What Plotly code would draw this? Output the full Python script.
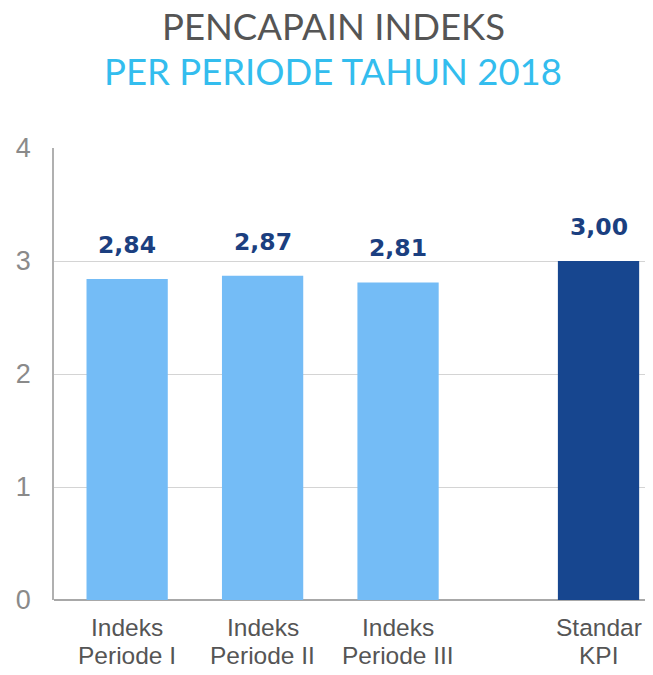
import plotly.graph_objects as go

categories = ["Indeks<br>Periode I", "Indeks<br>Periode II", "Indeks<br>Periode III", "Standar<br>KPI"]
values = [2.84, 2.87, 2.81, 3.00]
value_labels = ["2,84", "2,87", "2,81", "3,00"]
bar_colors = ["#74bcf6", "#74bcf6", "#74bcf6", "#17468f"]
y_ticks = [0, 1, 2, 3, 4]
title_line1 = "PENCAPAIN INDEKS"
title_line2 = "PER PERIODE TAHUN 2018"

# x positions: first three evenly spaced, KPI bar set apart by a gap
x_pos = [0, 1, 2, 3.48]

# layout geometry (figure pixels; page adds an 8px body margin)
W, H = 645, 667
ML, MR, MT, MB = 46, 3, 140, 75
plot_w = W - ML - MR
plot_h = H - MT - MB


def py(pix_y):
    """figure pixel row -> paper y"""
    return 1 + (MT - pix_y) / plot_h


def px(pix_x):
    return (pix_x - ML) / plot_w


fig = go.Figure()
fig.add_trace(go.Bar(
    x=x_pos, y=values, width=0.6,
    marker=dict(color=bar_colors, line=dict(width=0)),
    hoverinfo="skip",
))

annotations = []
for xp, v, lab in zip(x_pos, values, value_labels):
    annotations.append(dict(x=xp, y=v, text="<b>" + lab + "</b>", showarrow=False, yanchor="bottom",
                            yshift=18, font=dict(family="DejaVu Sans", size=23.5, color="#1b3f80"),
                            xref="x", yref="y"))

# two-line category labels under the bars (tight line spacing)
for xp, cat in zip(x_pos, categories):
    l1, l2 = cat.split("<br>")
    for txt, shift in ((l1, -27), (l2, -55)):
        annotations.append(dict(x=xp, y=0, xref="x", yref="paper", text=txt, showarrow=False,
                                yanchor="middle", xanchor="center", yshift=shift,
                                font=dict(family="Liberation Sans", size=24.5, color="#555555")))

annotations.append(dict(text=title_line1, x=px(325), y=py(18), xref="paper", yref="paper",
                        showarrow=False, xanchor="center", yanchor="middle",
                        font=dict(family="Lato", size=36.5, color="#555555")))
annotations.append(dict(text=title_line2, x=px(325), y=py(62.5), xref="paper", yref="paper",
                        showarrow=False, xanchor="center", yanchor="middle",
                        font=dict(family="Lato", size=36.5, color="#33bdee")))

fig.update_layout(
    width=W, height=H,
    margin=dict(l=ML, r=MR, t=MT, b=MB, autoexpand=False),
    paper_bgcolor="white", plot_bgcolor="white",
    showlegend=False,
    annotations=annotations,
    xaxis=dict(
        range=[-0.54, 3.86],
        showticklabels=False,
        showgrid=False, zeroline=False, showline=False, ticks="",
        automargin=False,
    ),
    yaxis=dict(
        range=[0, 4], tickvals=y_ticks,
        tickfont=dict(family="Liberation Sans", size=27, color="#8a8a8a"),
        showgrid=True, gridcolor="#d4d4d4", gridwidth=1,
        zeroline=True, zerolinecolor="#a8a8a8", zerolinewidth=2,
        showline=True, linecolor="#b0b0b0", linewidth=1.5,
        ticks="", ticklabelstandoff=16, automargin=False,
    ),
)

fig.write_html("out.html")
